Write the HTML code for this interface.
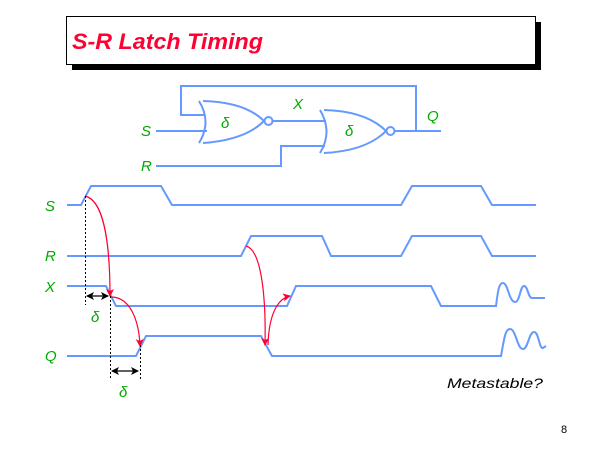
<!DOCTYPE html>
<html><head><meta charset="utf-8"><style>
html,body{margin:0;padding:0;background:#fff;width:600px;height:450px;overflow:hidden}
svg{display:block}
text{font-family:"Liberation Sans",sans-serif}
</style></head><body>
<svg width="600" height="450" viewBox="0 0 600 450" xmlns="http://www.w3.org/2000/svg">
<defs>
<marker id="ar" markerWidth="8" markerHeight="8" refX="7" refY="4" orient="auto" markerUnits="userSpaceOnUse"><path d="M0,0 L8,4 L0,8 L2,4 Z" fill="#ff0033"/></marker>
<marker id="bk" markerWidth="8" markerHeight="8" refX="7" refY="4" orient="auto-start-reverse" markerUnits="userSpaceOnUse"><path d="M0,0 L8,4 L0,8 L2,4 Z" fill="#000"/></marker>
</defs>
<!-- title -->
<rect x="72" y="22" width="469" height="48" fill="#000"/>
<rect x="66.5" y="16.5" width="469" height="48" fill="#fff" stroke="#000" stroke-width="1"/>
<text x="72" y="49" font-size="22" font-weight="bold" font-style="italic" fill="#ff0033" textLength="191" lengthAdjust="spacingAndGlyphs">S-R Latch Timing</text>

<g fill="none" stroke="#6699ff" stroke-width="2">
<!-- circuit -->
<path d="M205,115 H181 V86 H416 V131"/>
<path d="M156,131 H207"/>
<path d="M156,166 H281 V146 H325"/>
<path d="M273,121 H326"/>
<path d="M395,131 H441"/>
<path d="M199,101 Q212,122 199,143"/>
<path d="M203,101 Q245,102 264,121 Q245,140 203,143"/>
<circle cx="268.5" cy="121" r="4"/>
<path d="M320,110 Q333,132 320,153"/>
<path d="M324,110 Q366,111 386,131 Q366,151 324,153"/>
<circle cx="390.5" cy="131" r="4"/>
<!-- waveforms -->
<path d="M67,205 H81 L91,186 H161 L172,205 H401 L412,186 H481 L492,205 H536"/>
<path d="M67,256 H241 L251,236 H322 L331,256 H401 L412,236 H481 L492,256 H536"/>
<path d="M67,286 H106 L116,306 H287 L296,286 H431 L441,306 H496 C498,290 499,283 503,283 C508,283 509,302 515,302 C520,302 520,286 524,286 C528,286 528,298 532,298 H545"/>
<path d="M67,356 H136 L146,336 H261 L272,356 H501 C504,340 505,329 510,329 C516,329 517,349 523,349 C528,349 529,332 534,332 C539,332 539,349 543,348 L546,346"/>
</g>
<!-- red arrows -->
<g fill="none" stroke="#ff0033" stroke-width="1.2">
<path d="M85,196 C103,200 110,240 110,296" marker-end="url(#ar)"/>
<path d="M111,297 C130,297 139,320 140,346" marker-end="url(#ar)"/>
<path d="M246,246 C262,250 266,300 265,345" marker-end="url(#ar)"/>
<path d="M268,345 C269,310 280,298 290,296" marker-end="url(#ar)"/>
</g>
<!-- dotted -->
<g stroke="#000" stroke-width="1" stroke-dasharray="2,2">
<path d="M85.5,196 V305"/><path d="M110.5,296 V380"/><path d="M140.5,345 V380"/>
</g>
<g stroke="#000" stroke-width="1.3">
<path d="M87,296 H108" marker-start="url(#bk)" marker-end="url(#bk)"/>
<path d="M112,371 H138" marker-start="url(#bk)" marker-end="url(#bk)"/>
</g>
<!-- labels -->
<g fill="#00aa00" font-size="15" font-style="italic">
<text x="141" y="136">S</text><text x="141" y="171">R</text>
<text x="293" y="109">X</text><text x="427" y="121">Q</text>
<text x="45" y="211">S</text><text x="45" y="261">R</text>
<text x="45" y="292">X</text><text x="45" y="361">Q</text>
<text x="221" y="128" font-family="DejaVu Serif,serif">δ</text>
<text x="345" y="136" font-family="DejaVu Serif,serif">δ</text>
<text x="91" y="322" font-family="DejaVu Serif,serif">δ</text>
<text x="119" y="397" font-family="DejaVu Serif,serif">δ</text>
</g>
<text x="447" y="388" font-size="14" font-style="italic" fill="#000" textLength="96" lengthAdjust="spacingAndGlyphs">Metastable?</text>
<text x="561" y="433" font-size="11" fill="#000">8</text>
</svg>
</body></html>
